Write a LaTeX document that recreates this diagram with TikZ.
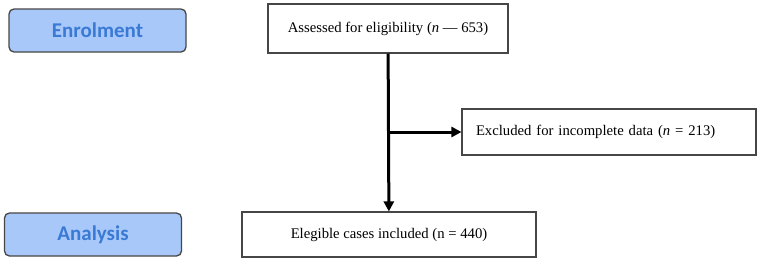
\documentclass[tikz,border=0pt]{standalone}
\usepackage{fontspec}
\setmainfont{Liberation Serif}
\newfontfamily\stagefont{Carlito}
\usepackage{tikz}
\usetikzlibrary{positioning,arrows.meta,calc}
\definecolor{stagefill}{RGB}{168,200,250}
\definecolor{stagetext}{RGB}{58,122,212}
\definecolor{boxline}{RGB}{70,70,70}

\begin{document}
\begin{tikzpicture}[x=1pt,y=-1pt,
    stage/.style={draw=boxline,line width=1.3pt,fill=stagefill,rounded corners=5pt,
                  minimum width=177pt,minimum height=43pt,inner sep=0pt,
                  font=\stagefont\bfseries\fontsize{21}{24}\selectfont,text=stagetext},
    flowbox/.style={draw=boxline,line width=1.1pt,fill=white,inner sep=0pt,
                    font=\fontsize{14.7}{17}\selectfont},
    flowline/.style={line width=3pt,-{Triangle[length=10pt,width=10pt]}}]
  \useasboundingbox (0,0) rectangle (761,263);
  % Stage labels
  \node[stage] (enrol) at (97.5,30.5) {Enrolment};
  \node[stage] (anal) at (93,234.5) {Analysis};
  % Flow boxes
  \node[flowbox,minimum width=240pt,minimum height=49pt] (assess) at (388,28.5)
       {Assessed for eligibility (\textit{n} --- 653)};
  \node[flowbox,text width=266pt,inner xsep=14pt,minimum height=46pt,align=left]
       (excl) at (609,132) {Excluded for incomplete data (\textit{n} = 213)};
  \node[flowbox,minimum width=294pt,minimum height=45pt] (incl) at (389,234.5)
       {Elegible cases included (n = 440)};
  % Connectors
  \coordinate (split) at (assess.south |- excl.west);
  \draw[flowline] (assess) -- (incl);
  \draw[flowline] (split) -- (excl);
\end{tikzpicture}
\end{document}
